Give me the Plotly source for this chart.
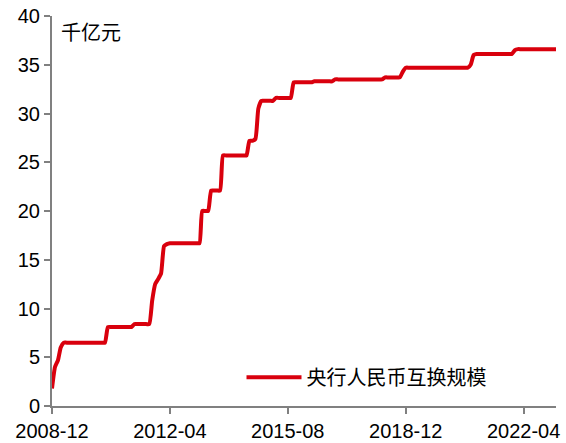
import plotly.graph_objects as go
import pandas as pd

# Monthly swap scale (千亿元), 2008-12 .. 2023-03
months = pd.date_range("2008-12-01", periods=172, freq="MS")
swap_scale = [
    1.8, 4.0, 4.7, 6.0, 6.5, 6.5, 6.5, 6.5, 6.5, 6.5,
    6.5, 6.5, 6.5, 6.5, 6.5, 6.5, 6.5, 6.5, 6.5, 8.1,
    8.1, 8.1, 8.1, 8.1, 8.1, 8.1, 8.1, 8.1, 8.4, 8.4,
    8.4, 8.4, 8.4, 8.4, 10.8, 12.5, 13.0, 13.6, 16.4, 16.6,
    16.7, 16.7, 16.7, 16.7, 16.7, 16.7, 16.7, 16.7, 16.7, 16.7,
    16.7, 20.0, 20.0, 20.0, 22.1, 22.1, 22.1, 22.1, 25.7, 25.7,
    25.7, 25.7, 25.7, 25.7, 25.7, 25.7, 25.7, 27.2, 27.2, 27.4,
    30.5, 31.3, 31.3, 31.3, 31.3, 31.3, 31.6, 31.6, 31.6, 31.6,
    31.6, 31.6, 33.2, 33.2, 33.2, 33.2, 33.2, 33.2, 33.2, 33.3,
    33.3, 33.3, 33.3, 33.3, 33.3, 33.3, 33.5, 33.5, 33.5, 33.5,
    33.5, 33.5, 33.5, 33.5, 33.5, 33.5, 33.5, 33.5, 33.5, 33.5,
    33.5, 33.5, 33.5, 33.7, 33.7, 33.7, 33.7, 33.7, 33.7, 34.3,
    34.7, 34.7, 34.7, 34.7, 34.7, 34.7, 34.7, 34.7, 34.7, 34.7,
    34.7, 34.7, 34.7, 34.7, 34.7, 34.7, 34.7, 34.7, 34.7, 34.7,
    34.7, 34.7, 35.0, 36.0, 36.1, 36.1, 36.1, 36.1, 36.1, 36.1,
    36.1, 36.1, 36.1, 36.1, 36.1, 36.1, 36.1, 36.5, 36.6, 36.6,
    36.6, 36.6, 36.6, 36.6, 36.6, 36.6, 36.6, 36.6, 36.6, 36.6,
    36.6, 36.6,
]
tick_dates = ["2008-12-01", "2012-04-01", "2015-08-01", "2018-12-01", "2022-04-01"]
tick_labels = ["2008-12", "2012-04", "2015-08", "2018-12", "2022-04"]
y_ticks = [0, 5, 10, 15, 20, 25, 30, 35, 40]

FONT = "Liberation Sans, Arial, Noto Sans CJK SC, sans-serif"
AXIS_COLOR = "#808080"

fig = go.Figure()
fig.add_trace(go.Scatter(
    x=months, y=swap_scale, mode="lines", name="央行人民币互换规模",
    line=dict(color="#d9000d", width=4, shape="spline", smoothing=0.5),
))

fig.update_layout(
    width=566, height=443,
    margin=dict(l=52, r=10, t=16, b=37),
    paper_bgcolor="white", plot_bgcolor="white",
    font=dict(family=FONT, size=20, color="black"),
    showlegend=True,
    legend=dict(
        x=0.376, y=0.074, xanchor="left", yanchor="middle",
        bgcolor="rgba(0,0,0,0)", font=dict(size=20, family=FONT),
        itemwidth=55,
    ),
    xaxis=dict(
        range=["2008-12-01", "2023-03-01"],
        tickvals=tick_dates, ticktext=tick_labels,
        showline=True, linecolor=AXIS_COLOR, linewidth=2,
        ticks="outside", ticklen=6, tickcolor=AXIS_COLOR, tickwidth=1.5,
        showgrid=False, zeroline=False, automargin=False,
    ),
    yaxis=dict(
        range=[0, 40], tickvals=y_ticks,
        showline=True, linecolor=AXIS_COLOR, linewidth=2,
        ticks="outside", ticklen=6, tickcolor=AXIS_COLOR, tickwidth=1.5,
        showgrid=False, zeroline=False, automargin=False,
    ),
    annotations=[dict(
        text="千亿元", xref="paper", yref="paper", x=0.014, y=0.956,
        xanchor="left", yanchor="middle", showarrow=False,
        font=dict(size=20, family=FONT),
    )],
)

fig.write_html(
    "out.html",
    config={"displayModeBar": False},
    post_script="document.body.style.margin='0';document.body.style.overflow='hidden';",
)
